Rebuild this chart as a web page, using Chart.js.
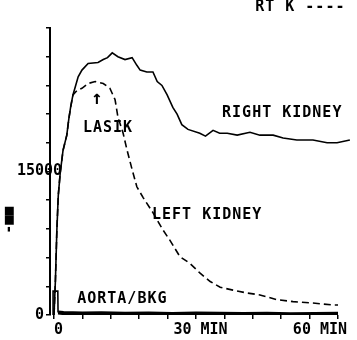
<!DOCTYPE html>
<html><head><meta charset="utf-8">
<script src="https://cdn.jsdelivr.net/npm/chart.js@4.4.1/dist/chart.umd.min.js"></script>
<style>html,body{margin:0;padding:0;background:#fff;overflow:hidden}</style>
</head><body>
<canvas id="c" width="357" height="340"></canvas>
<script>
// ---- data (minutes, counts) ----
const rightKidneyTime   = [0, 0.3, 0.6, 0.9, 1.3, 1.9, 2.7, 3.1, 3.5, 4.0, 5.1, 5.9, 7.2, 9.3, 10.4, 11.3, 12.3, 13.5, 15.0, 16.5, 17.5, 18.2, 19.6, 20.9, 21.8, 22.8, 23.9, 25.1, 26.0, 27.0, 28.3, 30.8, 32.0, 33.6, 35.0, 36.6, 38.7, 41.4, 43.5, 46.3, 48.4, 51.3, 54.7, 57.7, 59.8, 62.5];
const rightKidneyCounts = [0, 3700, 8900, 12500, 14800, 17200, 18800, 20400, 21700, 23000, 24900, 25600, 26300, 26400, 26700, 26900, 27400, 27000, 26700, 26900, 26100, 25600, 25400, 25400, 24400, 24000, 23000, 21700, 21000, 19900, 19400, 19000, 18700, 19300, 19000, 19000, 18800, 19100, 18800, 18800, 18500, 18300, 18300, 18000, 18000, 18300];

const leftKidneyTime   = [0, 0.3, 0.6, 0.9, 1.3, 1.9, 2.7, 3.1, 3.5, 4.0, 4.9, 5.9, 7.2, 8.7, 10.4, 11.8, 12.9, 13.5, 14.6, 15.4, 16.5, 17.5, 18.8, 20.9, 23.0, 24.5, 26.6, 28.7, 30.8, 33.0, 35.1, 37.8, 40.8, 43.5, 47.1, 50.5, 54.7, 58.9, 60.0];
const leftKidneyCounts = [0, 3700, 8900, 12500, 14800, 17200, 18800, 20400, 21700, 23000, 23500, 23700, 24200, 24400, 24200, 23700, 22500, 20700, 19000, 17300, 15200, 13400, 12300, 10700, 8900, 7800, 6100, 5400, 4400, 3500, 2900, 2600, 2300, 2100, 1600, 1400, 1250, 1050, 1050];

const aortaTime   = [-0.2, -0.2, 0.8, 0.85, 2, 6, 10, 15, 20, 25, 30, 35, 40, 45, 50, 55, 60];
const aortaCounts = [0, 2500, 2500, 250, 200, 150, 180, 120, 150, 100, 150, 120, 100, 130, 90, 110, 120];

const xTickValues = [0, 6, 12, 18, 24, 30, 36, 42, 48, 54, 60];
const xTickLabels = {0: ' 0', 30: ' 30 MIN', 60: '60 MIN    '};
const yTickLabels = {0: '  0', 15000: '15000'};

const annotations = [
  {text: 'RIGHT KIDNEY', x: 35.5, y: 21100},
  {text: 'LASIK', x: 6.1, y: 19550},
  {text: '↑', x: 9.1, y: 22600, align: 'center', size: 19},
  {text: 'LEFT KIDNEY', x: 20.7, y: 10450},
  {text: 'AORTA/BKG', x: 4.9, y: 1670},
  {text: 'RT K ----', x: 42.5, y: 32200}
];

const FONT = '"DejaVu Sans Mono", monospace';
const pts = (t, v) => t.map((x, i) => ({x, y: v[i]}));

const labelPlugin = {
  id: 'annot',
  afterDatasetsDraw(chart) {
    const {ctx, scales: {x, y}} = chart;
    ctx.save();
    ctx.fillStyle = '#000';
    ctx.textBaseline = 'middle';
    annotations.forEach(a => {
      ctx.font = 'bold ' + (a.size || 15) + 'px ' + FONT;
      try { ctx.letterSpacing = '1px'; } catch (e) {}
      ctx.textAlign = a.align || 'left';
      ctx.fillText(a.text, x.getPixelForValue(a.x), y.getPixelForValue(a.y));
    });
    ctx.restore();
  }
};

new Chart(document.getElementById('c'), {
  type: 'line',
  data: {
    datasets: [
      {label: 'RT K', data: pts(rightKidneyTime, rightKidneyCounts), borderColor: '#000', borderWidth: 1.6, pointRadius: 0, tension: 0},
      {label: 'LT K', data: pts(leftKidneyTime, leftKidneyCounts), borderColor: '#000', borderWidth: 1.6, borderDash: [7, 4], pointRadius: 0, tension: 0},
      {label: 'AORTA/BKG', data: pts(aortaTime, aortaCounts), borderColor: '#000', borderWidth: 4, pointRadius: 0, tension: 0,
       segment: {borderWidth: c => c.p0DataIndex < 3 ? 1.6 : 4}}
    ]
  },
  options: {
    responsive: false,
    animation: false,
    layout: {padding: {top: 28, left: 0, right: 1, bottom: 0}},
    plugins: {legend: {display: false}, tooltip: {enabled: false}},
    scales: {
      x: {
        type: 'linear', min: -0.85, max: 63.8,
        afterBuildTicks(s) { s.ticks = xTickValues.map(v => ({value: v})); },
        afterFit(s) { s.height = 25; s.paddingLeft = 0; s.paddingRight = 0; },
        border: {display: false},
        grid: {display: true, drawOnChartArea: false, drawTicks: true, tickLength: 4, color: '#000', lineWidth: 1.5},
        ticks: {autoSkip: false, maxRotation: 0, padding: 2, color: '#000',
                font: {family: FONT, size: 15, weight: 'bold'},
                callback: v => xTickLabels[v] || ''}
      },
      y: {
        min: 0, max: 30000,
        ticks: {stepSize: 3000, autoSkip: false, mirror: true, padding: -33, color: '#000',
                font: {family: FONT, size: 15, weight: 'bold'},
                callback: v => yTickLabels[v] || ''},
        afterFit(s) { s.width = 50; s.paddingTop = 0; s.paddingBottom = 0; },
        border: {display: true, color: '#000', width: 2},
        grid: {display: true, drawOnChartArea: false, drawTicks: true, tickLength: 4, color: '#000', lineWidth: 1.5},
        title: {display: true, text: '         -■■', align: 'start', color: '#000', padding: 0,
                font: {family: FONT, size: 15, weight: 'bold'}}
      }
    }
  },
  plugins: [labelPlugin]
});
</script>
</body></html>
